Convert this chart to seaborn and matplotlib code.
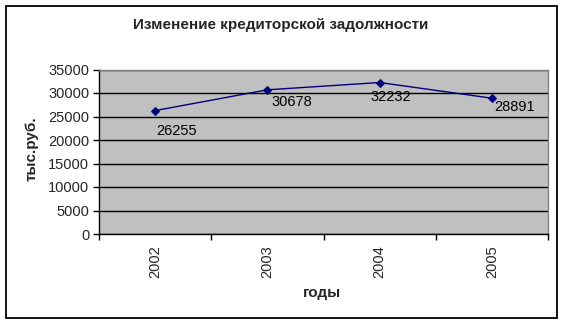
import matplotlib
matplotlib.use("Agg")
import matplotlib.pyplot as plt
import seaborn as sns
import pandas as pd
from matplotlib.patches import Rectangle

years = ["2002", "2003", "2004", "2005"]
values = [26255, 30678, 32232, 28891]
y_ticks = [0, 5000, 10000, 15000, 20000, 25000, 30000, 35000]
title = "Изменение кредиторской задолжности"
x_label = "годы"
y_label = "тыс.руб."

# label offsets in pixels (dx, dy down) - styling only
label_offsets = [(1, 20), (4, 12.5), (-9, 14), (2, 8.5)]

sns.set_theme(style="white")
plt.rcParams['font.family'] = ['Liberation Sans', 'DejaVu Sans']

W, H = 565, 325
fig = plt.figure(figsize=(W / 100, H / 100), dpi=100)
left, right, top, bottom = 99, 548, 69.5, 234
ax = fig.add_axes([left / W, 1 - bottom / H, (right - left) / W, (bottom - top) / H])

# outer frame
fig.patches.append(Rectangle((6 / W, 1 - 318 / H), (557 - 6) / W, (318 - 6) / H,
                             transform=fig.transFigure, fill=False,
                             edgecolor="black", linewidth=1.3))

df = pd.DataFrame({"year": years, "value": values})
sns.lineplot(data=df, x="year", y="value", ax=ax, color="#000080",
             marker="D", markersize=4.5, markeredgecolor="#000080",
             linewidth=1.0, sort=False)

ax.set_facecolor("#C0C0C0")
ax.set_xlim(-0.5, len(years) - 0.5)
ax.set_ylim(0, 35000)
ax.set_yticks(y_ticks)
ax.set_yticklabels([str(v) for v in y_ticks], fontsize=10.5)
ax.yaxis.grid(True, color="black", linewidth=1.0)
ax.set_axisbelow(True)

# category boundaries as major ticks, labels at minor ticks
ax.set_xticks([i - 0.5 for i in range(len(years) + 1)])
ax.set_xticklabels([])
ax.set_xticks(list(range(len(years))), minor=True)
ax.set_xticklabels(years, minor=True, rotation=90, fontsize=10.5)
ax.tick_params(axis="x", which="major", direction="out", length=4, width=1,
               color="black", bottom=True)
ax.tick_params(axis="x", which="minor", length=0, pad=8)
ax.tick_params(axis="y", direction="out", length=4, width=1, color="black",
               left=True, pad=3)

for s in ["left", "bottom"]:
    ax.spines[s].set_color("black")
    ax.spines[s].set_linewidth(1.0)
for s in ["top", "right"]:
    ax.spines[s].set_color("#808080")
    ax.spines[s].set_linewidth(1.0)

for i, (v, (dx, dy)) in enumerate(zip(values, label_offsets)):
    ax.annotate(str(v), xy=(i, v), xytext=(dx * 0.72, -dy * 0.72),
                textcoords="offset points", ha="left", va="center",
                fontsize=10.5, color="black")

ax.set_xlabel("")
ax.set_ylabel("")
fig.text(280.5 / W, 1 - 25 / H, title, ha="center", va="center",
         fontsize=11, fontweight="bold")
fig.text(322.5 / W, 1 - 293 / H, x_label, ha="center", va="center",
         fontsize=11, fontweight="bold")
fig.text(32 / W, 1 - 149 / H, y_label, ha="center", va="center",
         fontsize=11, fontweight="bold", rotation=90)

fig.savefig("out.png", dpi=100)
